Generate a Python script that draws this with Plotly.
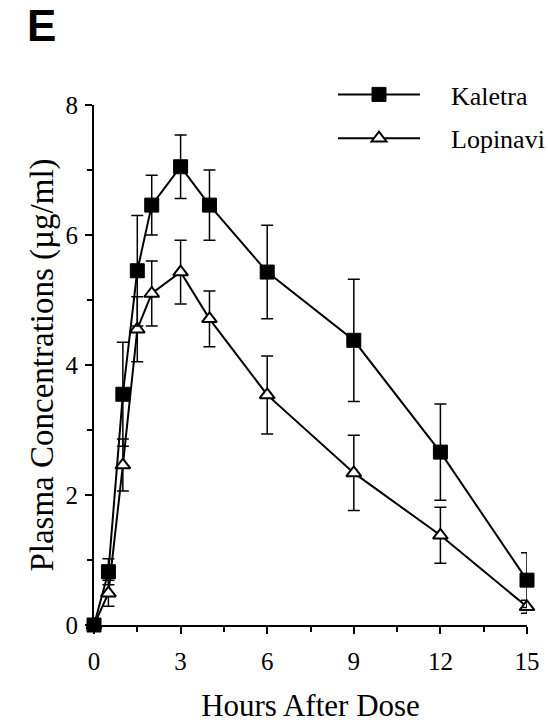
import plotly.graph_objects as go

# Data
hours = [0, 0.5, 1, 1.5, 2, 3, 4, 6, 9, 12, 15]
kaletra = [0, 0.82, 3.55, 5.45, 6.46, 7.05, 6.46, 5.43, 4.38, 2.66, 0.69]
kaletra_sd = [0, 0.2, 0.8, 0.85, 0.46, 0.49, 0.54, 0.72, 0.94, 0.74, 0.42]
lopinavir = [0, 0.49, 2.46, 4.55, 5.1, 5.43, 4.71, 3.54, 2.34, 1.38, 0.28]
lopinavir_sd = [0, 0.2, 0.4, 0.5, 0.5, 0.49, 0.43, 0.6, 0.58, 0.43, 0.1]

x_ticks = [0, 3, 6, 9, 12, 15]
y_ticks = [0, 2, 4, 6, 8]

SERIF = "Liberation Serif"

fig = go.Figure()

fig.add_trace(go.Scatter(
    x=hours, y=lopinavir, name="\u00a0\u00a0\u00a0\u00a0Lopinavi",
    legendgroup="b", legendrank=2,
    mode="lines+markers",
    line=dict(color="black", width=2),
    marker=dict(symbol="triangle-up", size=13, color="white",
                line=dict(color="black", width=2)),
    error_y=dict(type="data", array=lopinavir_sd, visible=True,
                 color="black", thickness=1.5, width=6),
    cliponaxis=False,
))

fig.add_trace(go.Scatter(
    x=hours, y=kaletra, name="\u00a0\u00a0\u00a0\u00a0Kaletra",
    legendgroup="a", legendrank=1,
    mode="lines+markers",
    line=dict(color="black", width=2),
    marker=dict(symbol="square", size=14, color="black",
                line=dict(color="black", width=1)),
    error_y=dict(type="data", array=kaletra_sd, visible=True,
                 color="black", thickness=1.5, width=6),
    cliponaxis=False,
))

L, R, T, B = 94, 21, 105, 103
pw = 548 - L - R
ph = 728 - T - B

fig.update_layout(
    width=548, height=728,
    margin=dict(l=L, r=R, t=T, b=B, autoexpand=False),
    paper_bgcolor="white", plot_bgcolor="white",
    font=dict(family=SERIF, color="black", size=25),
    showlegend=True,
    legend=dict(
        x=(333 - L) / pw, y=(625 - 71) / ph,
        xanchor="left", yanchor="top",
        font=dict(family=SERIF, size=26, color="black"),
        bgcolor="rgba(0,0,0,0)",
        itemwidth=82,
        tracegroupgap=7,
    ),
    xaxis=dict(
        range=[0, 15], tickvals=x_ticks, ticktext=[str(v) for v in x_ticks],
        showline=True, linecolor="black", linewidth=2,
        ticks="outside", ticklen=7, tickwidth=2, tickcolor="black",
        showgrid=False, zeroline=False,
        tickfont=dict(family=SERIF, size=25),
        ticklabelstandoff=6,
        minor=dict(dtick=1.5, tick0=0, ticks="outside", ticklen=5,
                   tickwidth=1.5, tickcolor="black", showgrid=False),
        title=dict(text="Hours After Dose",
                   font=dict(family=SERIF, size=31), standoff=20),
    ),
    yaxis=dict(
        range=[0, 8], tickvals=y_ticks, ticktext=[str(v) for v in y_ticks],
        showline=True, linecolor="black", linewidth=2,
        ticks="outside", ticklen=7, tickwidth=2, tickcolor="black",
        showgrid=False, zeroline=False,
        tickfont=dict(family=SERIF, size=25),
        ticklabelstandoff=2,
        minor=dict(dtick=1, tick0=0, ticks="outside", ticklen=5,
                   tickwidth=1.5, tickcolor="black", showgrid=False),
        title=dict(text="Plasma Concentrations (\u00b5g/ml)",
                   font=dict(family=SERIF, size=33), standoff=2),
    ),
)

fig.add_annotation(
    text="<b>E</b>", xref="paper", yref="paper",
    x=(25 - L) / pw, y=(625 + 1) / ph, xanchor="left", yanchor="top",
    showarrow=False, font=dict(family="Liberation Sans", size=44, color="black"),
)

fig.write_html("out.html", config={"displayModeBar": False},
               post_script="document.body.style.margin='0';")
